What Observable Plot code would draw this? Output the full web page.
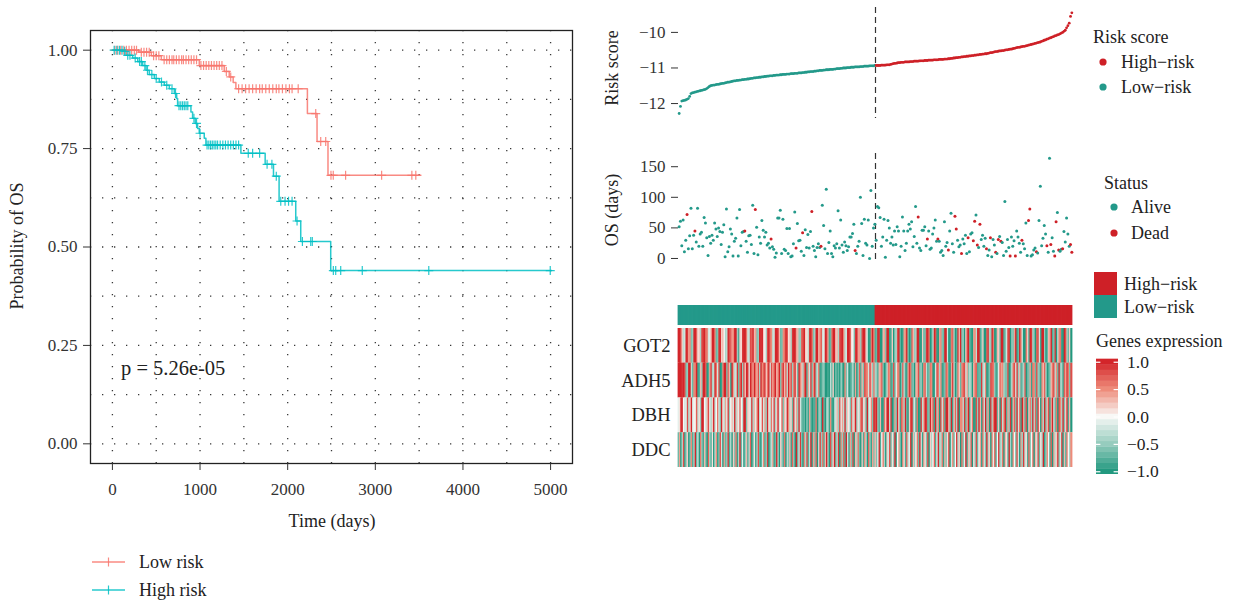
<!DOCTYPE html>
<html><head><meta charset="utf-8">
<script src="https://cdn.jsdelivr.net/npm/d3@7"></script>
<script src="https://cdn.jsdelivr.net/npm/@observablehq/plot@0.6"></script>
<style>
body{margin:0;background:#fff;}
#root{position:relative;width:1240px;height:610px;background:#fff;font-family:"Liberation Serif",serif;color:#222;overflow:hidden;}
#root svg{display:block;}
</style></head>
<body><div id="root"></div>
<script>
// ---------------- KM data ----------------
const lowT = [0, 300, 444, 558, 991, 1276, 1333, 1378, 1409, 2225, 2335, 2460, 3520];
const lowS = [1, 0.995, 0.986, 0.976, 0.961, 0.946, 0.932, 0.918, 0.902, 0.839, 0.768, 0.682, 0.682];
const lowCensor = [30,60,95,130,160,190,220,250,275,330,360,390,420,470,500,530,590,620,650,680,700,730,760,790,810,840,870,900,930,960,1010,1040,1070,1100,1130,1160,1190,1220,1250,1300,1350,1440,1480,1520,1560,1600,1640,1680,1710,1750,1790,1830,1870,1900,1940,1980,2020,2050,2120,2320,2377,2434,2494,2520,2661,3072,3417,3462];
const highT = [0, 118, 156, 231, 289, 345, 384, 421, 478, 535, 592, 649, 706, 733, 744, 896, 915, 945, 972, 991, 1048, 1067, 1466, 1743, 1838, 1902, 2092, 2149, 2491, 5011];
const highS = [1, 0.997, 0.987, 0.980, 0.971, 0.961, 0.949, 0.938, 0.928, 0.919, 0.911, 0.902, 0.890, 0.877, 0.859, 0.843, 0.827, 0.814, 0.801, 0.789, 0.776, 0.759, 0.738, 0.710, 0.680, 0.616, 0.566, 0.514, 0.440, 0.440];
const highCensor = [20,50,80,110,140,175,200,260,310,330,370,400,450,500,560,620,680,720,760,780,800,820,840,860,930,960,1000,1080,1100,1120,1140,1160,1180,1200,1230,1260,1290,1320,1350,1380,1410,1440,1550,1600,1680,1765,1820,1870,1921,1970,2010,2050,2107,2168,2263,2281,2521,2548,2605,2851,3610,4996];
const kmXTicks = [0, 1000, 2000, 3000, 4000, 5000];
const kmYTicks = [0, 0.25, 0.5, 0.75, 1];
const kmXGrid = [0, 500, 1000, 1500, 2000, 2500, 3000, 3500, 4000, 4500, 5000];
const kmYGrid = [0, 0.125, 0.25, 0.375, 0.5, 0.625, 0.75, 0.875, 1];
const pValueText = "p = 5.26e-05";

// ---------------- Risk panel data ----------------
const riskLow = [-12.28,-12.08,-11.93,-11.92,-11.91,-11.90,-11.88,-11.86,-11.80,-11.72,
-11.70,-11.69,-11.68,-11.67,-11.66,-11.65,-11.64,-11.63,-11.62,-11.61,
-11.60,-11.58,-11.55,-11.52,-11.50,-11.49,-11.48,-11.48,-11.47,-11.46,
-11.46,-11.45,-11.44,-11.43,-11.43,-11.42,-11.41,-11.40,-11.40,-11.39,
-11.38,-11.37,-11.36,-11.36,-11.35,-11.35,-11.34,-11.34,-11.33,-11.33,
-11.32,-11.32,-11.31,-11.31,-11.30,-11.29,-11.29,-11.28,-11.28,-11.27,
-11.27,-11.26,-11.26,-11.25,-11.25,-11.24,-11.24,-11.23,-11.23,-11.22,
-11.22,-11.22,-11.21,-11.21,-11.20,-11.20,-11.20,-11.19,-11.19,-11.18,
-11.18,-11.18,-11.17,-11.17,-11.17,-11.16,-11.16,-11.16,-11.15,-11.15,
-11.15,-11.14,-11.14,-11.14,-11.13,-11.13,-11.12,-11.12,-11.11,-11.11,
-11.10,-11.10,-11.10,-11.09,-11.09,-11.08,-11.08,-11.07,-11.07,-11.07,
-11.06,-11.06,-11.05,-11.05,-11.05,-11.04,-11.04,-11.04,-11.03,-11.03,
-11.02,-11.02,-11.02,-11.01,-11.01,-11.00,-11.00,-11.00,-10.99,-10.99,
-10.99,-10.98,-10.98,-10.98,-10.97,-10.97,-10.97,-10.97,-10.96,-10.96,
-10.96,-10.95,-10.95,-10.95,-10.95,-10.94,-10.94,-10.94,-10.94,-10.93];
const riskHigh = [-10.93,-10.93,-10.93,-10.93,-10.92,-10.92,-10.92,-10.92,-10.91,-10.91,
-10.91,-10.90,-10.89,-10.88,-10.87,-10.87,-10.86,-10.85,-10.85,-10.84,
-10.84,-10.84,-10.83,-10.83,-10.83,-10.83,-10.82,-10.82,-10.82,-10.81,
-10.81,-10.81,-10.81,-10.80,-10.80,-10.80,-10.80,-10.79,-10.79,-10.79,
-10.78,-10.78,-10.78,-10.78,-10.77,-10.77,-10.77,-10.77,-10.76,-10.76,
-10.76,-10.76,-10.75,-10.75,-10.75,-10.74,-10.74,-10.73,-10.73,-10.72,
-10.72,-10.71,-10.71,-10.70,-10.70,-10.69,-10.69,-10.68,-10.68,-10.67,
-10.67,-10.66,-10.66,-10.65,-10.65,-10.64,-10.64,-10.63,-10.63,-10.62,
-10.62,-10.61,-10.61,-10.60,-10.60,-10.59,-10.58,-10.57,-10.57,-10.56,
-10.55,-10.54,-10.54,-10.53,-10.52,-10.52,-10.51,-10.51,-10.50,-10.49,
-10.49,-10.48,-10.47,-10.47,-10.46,-10.45,-10.44,-10.43,-10.42,-10.42,
-10.41,-10.40,-10.39,-10.39,-10.38,-10.37,-10.36,-10.35,-10.34,-10.33,
-10.32,-10.31,-10.30,-10.29,-10.28,-10.27,-10.25,-10.24,-10.22,-10.21,
-10.19,-10.18,-10.16,-10.15,-10.13,-10.12,-10.10,-10.09,-10.07,-10.06,
-10.04,-10.02,-10.00,-9.97,-9.94,-9.87,-9.81,-9.74,-9.55,-9.45];
const riskTicks = [-12, -11, -10];

const osDays = [52,61,21,63,11,30,72,16,37,82,
16,38,45,27,82,20,40,43,20,67,
58,34,5,36,25,38,30,58,48,36,
50,44,23,43,55,3,81,11,19,48,
40,4,28,33,66,4,80,21,43,44,
45,28,10,37,38,23,87,8,80,51,
6,35,25,62,46,35,43,22,25,17,
32,19,15,2,9,66,66,79,8,64,
15,13,49,8,49,3,4,24,76,17,
57,29,30,12,42,5,47,18,39,17,
44,77,20,13,3,18,24,18,20,87,
54,16,113,8,26,45,8,3,21,17,
24,78,17,63,22,10,27,21,13,19,
35,35,41,56,13,8,20,28,100,57,
5,64,25,22,63,0,111,20,50,56,
30,85,83,67,20,35,64,2,30,62,
50,25,35,22,45,23,52,45,3,20,
68,45,13,25,45,56,48,60,19,36,
85,25,68,17,13,46,46,52,21,32,
45,15,17,40,50,63,28,32,28,10,
13,5,60,20,26,14,45,74,24,10,
69,48,30,19,22,8,32,24,38,8,
34,11,40,42,29,61,71,22,18,56,
31,38,20,33,16,5,14,34,3,31,
22,10,8,31,36,28,26,5,93,12,
31,18,4,35,20,29,4,45,35,25,
10,30,24,16,58,5,62,81,4,6,
14,17,11,9,62,118,21,33,54,40,
21,10,164,23,34,12,4,60,75,14,
12,15,16,44,27,66,40,20,23,10];
const deadIdx = [6,12,50,58,70,89,94,101,108,134,182,189,197,205,210,211,215,220,224,225,227,229,234,237,241,243,245,252,256,261,266,267,272,280,283,286,287,289,292,298,299];
const osTicks = [0, 50, 100, 150];

// ---------------- Heatmap data ----------------
const genes = ["GOT2", "ADH5", "DBH", "DDC"];
const exprGOT2 = [1,1,.8,.2,-.3,-.2,1,.9,.4,.5,-.6,-.5,1,1,.7,.1,.2,-.4,.8,.9,1,.6,.6,-.2,-.1,.3,1,1,.5,-.7,-.6,.9,1,.2,.3,0,-.4,-.3,1,.8,.7,.4,.5,1,1,-.5,-.8,.2,.1,.9,1,1,.6,-.2,-.3,.8,.7,1,.3,.4,-.6,-.5,1,.9,1,.2,0,-.4,.8,1,.6,.5,-.3,-.2,1,1,.9,.3,-.7,-.6,.5,.6,1,.8,.1,.2,-.4,.9,1,1,.4,.3,-.5,-.5,.7,.8,1,.2,.1,-.3,.9,1,.6,-.6,-.4,1,1,.3,.5,.7,-.2,-.1,1,.9,.4,-.8,-.7,.6,1,1,.2,.3,-.4,.8,.9,1,.5,-.3,-.2,1,1,.7,.1,0,-.6,.9,1,.4,.4,-.5,.8,1,1,.2,-.3,-1,-.9,.6,1,.5,
-.8,-.7,1,.9,-1,-1,.3,.4,-.6,1,1,-.9,-.8,.2,-1,-.5,-.4,.8,1,-.7,-1,-.9,.4,.5,1,-.6,-1,-.8,.7,.3,-.5,-.4,1,1,-.9,-1,.2,-.7,-.6,.9,1,.6,-1,-.8,-.3,1,.8,-.9,-1,.4,.5,-.6,-.7,1,1,-.2,-1,-.9,.6,.7,-.4,-1,-.8,.9,.3,1,-.6,-.5,-1,.2,.8,1,-.7,-.9,-1,.4,.5,-.3,1,1,-.8,-.6,.2,-1,-1,.7,.9,-.4,-.5,1,.6,-1,-.9,.3,.2,-.7,1,1,-.8,-.6,-.2,.8,.9,-1,-.5,-.6,.4,1,-.9,-.7,1,.5,-.3,-1,-1,.6,.2,-.8,1,.9,-.4,-.6,-1,.7,.8,-.2,-.9,1,1,-.5,-1,-.7,.3,.4,1,-.8,-.6,.9,-1,-.3,.5,.6,-.9,-1,1,.8,-.4,-.7,.2,-1];
const exprADH5 = [1,1,1,.9,1,.8,-.6,-.5,1,1,-.3,-.7,.5,.6,1,-.9,-.8,.3,-.5,1,1,.7,-1,-.8,.4,.9,-.4,-.3,1,.6,-.2,.8,-1,-.9,.5,1,1,-.6,.7,.3,-.9,1,.4,-.3,-.2,.9,-.7,.6,1,-.5,.8,.2,1,.9,-.1,1,.7,.4,1,.6,.3,.8,-.4,1,.5,.7,.9,.2,.6,1,-.2,.8,.4,.7,1,.3,.5,1,-.6,.6,.9,.3,.7,-.3,1,.4,.8,-.5,.6,.9,.2,-.7,1,.5,.3,-.4,.7,1,-.8,.4,-.2,.9,-.6,.5,1,-.5,-.3,.6,-.9,-.8,-.6,-.5,-1,-1,-.8,-1,-.3,-.7,.2,-1,-.6,-.9,-.7,-1,-.4,-.8,-1,.5,-.6,-.2,-1,-.8,-.7,-.3,-.9,.4,-1,-.5,.7,-.8,.3,-.6,.8,.6,.5,-.2,.9,.3,-.5,.6,
-.4,-.5,-.8,.3,.4,.7,-.6,-1,-.8,-.3,.6,.5,-.9,-.7,.8,-.7,-.1,.5,.6,-1,-.6,.7,-.3,-.8,-.9,.4,.9,.6,-.7,-.6,-1,.3,.4,.8,-.6,-.5,-.9,.5,.7,-.3,-.8,-.6,.6,.5,-1,-.9,-.2,.8,.6,-.4,.5,-.9,-.8,-.6,.7,.5,-.8,-1,.4,.9,-.3,-1,-.7,.6,.2,-.7,.5,.7,.8,-.2,.4,-.6,-.3,-.5,-1,.3,.6,.7,-.8,-.7,-.7,.9,-.4,-.2,.5,-1,-.8,-.6,.8,.7,.6,-.5,-.9,-.7,-.1,.7,.4,.5,-.4,-.6,-.6,.8,-1,-.8,-.3,.6,.8,-.2,.9,-.5,.3,-.8,-.6,-.4,.7,-1,-.7,-.6,.4,-.9,.6,.5,-.7,.8,-.5,-.6,-.9,.5,.3,.7,-.4,-1,-.8,-.6,.3,.6,.8,-.3,.5,-.7,1,-.5,-.4,-.9,.7,.4,.9,.6,-.6,.8];
const exprDBH = [-.1,.1,.9,1,0,-.2,-.1,.8,-.4,.2,1,-.2,0,.1,.7,-.3,.1,-.5,1,1,0,-.2,.3,.8,-.1,-.4,.2,1,-.3,0,.6,-.2,-.6,1,.1,-.3,.4,-.1,.9,-.5,0,.3,-.2,1,-.4,.2,-.1,.7,0,-.3,1,1,-.6,.2,.1,-.2,.9,-.4,.3,-.1,.5,1,-.3,0,.8,-.2,.4,-.5,1,.1,-.3,.6,-.1,.9,-.4,.2,1,-.2,0,.7,-.6,.3,-.1,1,.5,-.3,.2,-.7,.9,-.1,.4,-.5,1,-.2,-.6,-.8,-.7,-1,-.5,-.9,.4,-.7,-1,-.8,-.8,.6,-1,-.6,-.4,-.9,1,-.7,-1,-.5,-.3,-.9,.5,-.8,-1,-.4,-.2,.3,-.5,.8,-.1,.4,-.3,1,-.4,.2,0,-.6,.7,-.2,.3,1,-.5,.1,-.3,.6,.9,-.2,.2,-.7,1,-.4,0,.5,-.6,1,
.8,1,-.5,-.8,.3,-1,-.9,.6,.2,1,1,-.3,.9,-1,-.8,.4,-.6,1,.1,-.9,.7,.5,-.4,1,-.7,-1,.2,.8,1,-.5,-.2,-.8,.6,-1,-.9,.9,-.3,.4,1,.9,-.7,-.6,1,.3,.7,-.9,1,-.4,.5,-1,.8,-.2,.6,-.8,1,1,.3,-.6,1,-.9,.2,.7,-.4,1,-1,.5,.5,-.3,.9,-.7,.4,1,-.8,.1,.6,-1,-.9,.8,-.5,1,.3,-.9,.7,-.2,1,-.6,.4,-1,.9,-.4,.6,1,1,-.7,.2,-1,.8,-.3,.5,1,-.8,.4,-.5,.9,-1,.3,.7,-.6,1,-.2,.6,-.9,1,.4,-.7,.8,-1,.2,.6,-.5,1,-.3,.7,-.8,.9,.1,-1,.5,-.4,1,-.6,.3,.8,-.9,.4,1,-.2,-.7,.6,-1,.8,.5,-.4,1,-.6,.2,.9,-.8,.3,-1];
const exprDDC = [-.7,.4,-1,-.3,.8,-.9,-.5,.2,-1,-.6,.5,-.8,-.4,1,-.7,-.2,-1,.6,-.5,-.9,.3,-.6,-1,.7,-.4,-.8,.1,-1,-.3,.5,-.9,-.6,.8,-.2,-1,.4,-.7,-.5,.9,-.8,-.3,-1,.2,-.6,.6,-.9,-.4,1,-.7,-.1,-1,-.5,.3,-.8,-.3,.7,-1,-.6,.1,-.9,-.4,.8,-.7,-1,-.2,.5,-.8,-.5,.9,-1,-.6,-.3,.4,-.9,-.7,1,-.4,-1,.2,-.5,-.8,.6,-1,-.3,-.6,.3,-.9,.7,-.5,-1,1,-.7,-.2,.9,-.6,-1,.5,-.4,.8,-.8,-.3,1,-.9,.4,-.6,.7,-1,-.2,.9,-.5,.6,-.8,.3,1,-.4,-1,.8,-.6,.2,1,-.7,-.3,.9,-1,.5,-.5,.7,-.8,1,-.2,-.9,.4,-.6,.8,-1,.3,-.4,.6,-.7,-1,.2,-.8,.5,-.3,-1,.7,-.5,-.9,.4,-.6,
.3,-.6,-.1,1,-.8,0,.6,-.4,-1,.2,-.2,.8,-.7,.1,-.5,1,-.9,0,.4,-.6,-1,.5,.1,-.8,.7,-.3,-.1,.9,-1,.3,-.5,0,.6,-.7,1,-.2,-.9,.4,.1,-.6,.8,-1,.2,-.4,0,.7,-.8,-.1,1,-.5,-.3,.6,-.9,.3,-.6,.1,.8,-1,-.2,.5,-.7,0,.9,-.4,.2,-1,.6,-.6,-.1,1,-.8,.3,-.3,.7,-1,.1,-.5,.8,-.7,0,.4,-.9,.6,-.2,-.6,1,-.4,.2,-1,.5,-.1,.7,-.8,0,.9,-.5,-.3,.6,-1,.3,.1,-.7,1,-.4,-.9,.5,0,-.6,.8,-.2,-1,.4,-.5,.9,-.3,.1,-.8,.7,-.6,0,.6,-1,.3,-.2,.8,-.7,.1,-.4,1,-.9,-.5,.5,0,-.8,.7,-1,.4,-.3,.2,.9,-.6,-.2,.8,-1,.3,-.7,.6,0,-.4,.5];
const exprTicks = [-1, -0.5, 0, 0.5, 1];
const exprBands = [-1,-0.9,-0.8,-0.7,-0.6,-0.5,-0.4,-0.3,-0.2,-0.1,0,0.1,0.2,0.3,0.4,0.5,0.6,0.7,0.8,0.9,1];

// ---------------- colours ----------------
const RED = "#CE2027", TEAL = "#23998A";
const KM_LOW = "#F8766D", KM_HIGH = "#00BFC4";
const HEAT_RANGE = ["#22997F", "#96CCBE", "#F8F8F6", "#EE8B7A", "#D3252A"];

const root = document.getElementById("root");
const baseStyle = {fontFamily: "'Liberation Serif', serif", fontSize: "17px", color: "#333", background: "transparent", overflow: "visible"};
function place(el, x, y) { el.style.position = "absolute"; el.style.left = x + "px"; el.style.top = y + "px"; root.appendChild(el); return el; }
function txt(s, x, y, {size = 18, anchor = "start", rotate = false, color = "#222"} = {}) {
  const d = document.createElement("div");
  d.textContent = s;
  d.style.cssText = `font-size:${size}px;white-space:nowrap;line-height:1;color:${color};`;
  const tx = anchor === "middle" ? "-50%" : anchor === "end" ? "-100%" : "0";
  d.style.transform = rotate ? "translate(-50%,-50%) rotate(-90deg)" : `translate(${tx},-50%)`;
  return place(d, x, y);
}
const plusSym = {draw(ctx, size) { const r = Math.sqrt(size / Math.PI); ctx.moveTo(-r, 0); ctx.lineTo(r, 0); ctx.moveTo(0, -r); ctx.lineTo(0, r); }};
function stepAt(T, S, t) { let s = S[0]; for (let k = 0; k < T.length; k++) if (T[k] <= t) s = S[k]; return s; }

// ---------------- KM plot ----------------
const lowLine = lowT.map((t, k) => ({t, s: lowS[k]}));
const highLine = highT.map((t, k) => ({t, s: highS[k]}));
const lowCens = lowCensor.map(t => ({t, s: stepAt(lowT, lowS, t)}));
const highCens = highCensor.map(t => ({t, s: stepAt(highT, highS, t)}));

const km = Plot.plot({
  width: 600, height: 540, marginLeft: 90, marginRight: 28, marginTop: 30, marginBottom: 77,
  style: baseStyle,
  x: {domain: [-250, 5250]}, y: {domain: [-0.05, 1.05]},
  marks: [
    Plot.gridX(kmXGrid, {stroke: "#222", strokeOpacity: 0.9, strokeWidth: 1.3, strokeDasharray: "1.3,10.7"}),
    Plot.gridY(kmYGrid, {stroke: "#222", strokeOpacity: 0.9, strokeWidth: 1.3, strokeDasharray: "1.3,10.7"}),
    Plot.frame({stroke: "#222", strokeWidth: 1.3}),
    Plot.axisX(kmXTicks, {tickSize: 7, tickPadding: 12, label: null, tickFormat: d3.format("d")}),
    Plot.axisY(kmYTicks, {tickSize: 7, tickPadding: 6, label: null, tickFormat: d3.format(".2f")}),
    Plot.line(lowLine, {x: "t", y: "s", curve: "step-after", stroke: KM_LOW, strokeWidth: 1.5, strokeOpacity: 0.85}),
    Plot.line(highLine, {x: "t", y: "s", curve: "step-after", stroke: KM_HIGH, strokeWidth: 1.5, strokeOpacity: 0.85}),
    Plot.dot(lowCens, {x: "t", y: "s", symbol: plusSym, r: 4.5, stroke: KM_LOW, fill: "none", strokeWidth: 1.2, strokeOpacity: 0.85}),
    Plot.dot(highCens, {x: "t", y: "s", symbol: plusSym, r: 4.5, stroke: KM_HIGH, fill: "none", strokeWidth: 1.2, strokeOpacity: 0.85})
  ]
});
place(km, 0, 0);
txt("Probability of OS", 17, 246, {rotate: true});
txt("Time (days)", 332, 521, {anchor: "middle"});
txt(pValueText, 121, 368, {size: 20.5});

// KM legend
const kmLeg = d3.create("svg").attr("width", 150).attr("height", 60);
[["Low risk", KM_LOW, 17], ["High risk", KM_HIGH, 45]].forEach(([lab, c, y]) => {
  kmLeg.append("line").attr("x1", 7).attr("x2", 40).attr("y1", y).attr("y2", y).attr("stroke", c).attr("stroke-width", 1.5).attr("stroke-opacity", 0.85);
  kmLeg.append("line").attr("x1", 23.5).attr("x2", 23.5).attr("y1", y - 4.5).attr("y2", y + 4.5).attr("stroke", c).attr("stroke-width", 1.2).attr("stroke-opacity", 0.85);
  kmLeg.append("text").attr("x", 54).attr("y", y).attr("dy", "0.35em").attr("font-size", 18).attr("font-family", "'Liberation Serif', serif").attr("fill", "#222").text(lab);
});
place(kmLeg.node(), 85, 545);

// ---------------- right panels ----------------
const N = riskLow.length + riskHigh.length;
const cut = riskLow.length - 0.5;
const deadSet = new Set(deadIdx);
const samples = [...riskLow, ...riskHigh].map((s, i) => ({
  i, s, g: i < riskLow.length ? "Low-risk" : "High-risk", os: osDays[i], st: deadSet.has(i) ? "Dead" : "Alive"
}));
const idx = samples.map(d => d.i);
const rightW = 480, rightML = 78, rightMR = 8;

const p1 = Plot.plot({
  width: rightW, height: 125, marginLeft: rightML, marginRight: rightMR, marginTop: 7, marginBottom: 7,
  style: baseStyle,
  x: {domain: [-0.5, N - 0.5], axis: null}, y: {domain: [-12.42, -9.30]},
  color: {domain: ["High-risk", "Low-risk"], range: [RED, TEAL]},
  marks: [
    Plot.axisY(riskTicks, {tickSize: 7, tickPadding: 6, label: null, tickFormat: d3.format("d")}),
    Plot.ruleX([cut], {stroke: "#333", strokeWidth: 1.2, strokeDasharray: "6,4"}),
    Plot.dot(samples, {x: "i", y: "s", fill: "g", r: 1.4})
  ]
});
place(p1, 600, 0);
txt("Risk score", 612, 68, {rotate: true});

const p2 = Plot.plot({
  width: rightW, height: 130, marginLeft: rightML, marginRight: rightMR, marginTop: 13, marginBottom: 7,
  style: baseStyle,
  x: {domain: [-0.5, N - 0.5], axis: null}, y: {domain: [-8.2, 171.6]},
  color: {domain: ["Alive", "Dead"], range: [TEAL, RED]},
  marks: [
    Plot.axisY(osTicks, {tickSize: 7, tickPadding: 6, label: null, tickFormat: d3.format("d")}),
    Plot.ruleX([cut], {stroke: "#333", strokeWidth: 1.2, strokeDasharray: "6,4"}),
    Plot.dot(samples, {x: "i", y: "os", fill: "st", r: 1.5})
  ]
});
place(p2, 600, 140);
txt("OS (days)", 612, 210, {rotate: true});

const p3 = Plot.plot({
  width: rightW, height: 20, marginLeft: rightML, marginRight: rightMR, marginTop: 0, marginBottom: 0,
  style: baseStyle,
  x: {type: "band", domain: idx, padding: 0, round: false, axis: null},
  color: {domain: ["High-risk", "Low-risk"], range: [RED, TEAL]},
  marks: [Plot.cell(samples, {x: "i", fill: "g", insetLeft: -0.4, insetRight: -0.4})]
});
place(p3, 600, 305);

const exprByGene = {GOT2: exprGOT2, ADH5: exprADH5, DBH: exprDBH, DDC: exprDDC};
const heat = genes.flatMap(g => exprByGene[g].slice(0, N).map((v, i) => ({g, i, v})));
const heatColor = {type: "linear", domain: [-1, -0.5, 0, 0.5, 1], range: HEAT_RANGE, clamp: true};
const p4 = Plot.plot({
  width: rightW, height: 139, marginLeft: rightML, marginRight: rightMR, marginTop: 0, marginBottom: 0,
  style: {...baseStyle, fontSize: "18.5px"},
  x: {type: "band", domain: idx, padding: 0, round: false, axis: null},
  y: {type: "band", domain: genes, padding: 0, round: false},
  color: heatColor,
  marks: [
    Plot.cell(heat, {x: "i", y: "g", fill: "v", insetLeft: -0.4, insetRight: -0.4}),
    Plot.axisY({tickSize: 0, tickPadding: 8, label: null, fill: "#222"})
  ]
});
place(p4, 600, 328);

// ---------------- legends ----------------
function dotSvg(color, r) {
  const s = d3.create("svg").attr("width", 2 * r + 2).attr("height", 2 * r + 2);
  s.append("circle").attr("cx", r + 1).attr("cy", r + 1).attr("r", r).attr("fill", color);
  const n = s.node(); n.style.transform = "translate(-50%,-50%)"; return n;
}
txt("Risk score", 1093, 37);
place(dotSvg(RED, 3.6), 1103, 62); txt("High\u2212risk", 1121, 62);
place(dotSvg(TEAL, 3.6), 1103, 87); txt("Low\u2212risk", 1121, 87);
txt("Status", 1104, 183);
place(dotSvg(TEAL, 3.6), 1114, 207); txt("Alive", 1131, 207);
place(dotSvg(RED, 3.6), 1114, 233); txt("Dead", 1131, 233);

const rectLeg = d3.create("svg").attr("width", 24).attr("height", 47);
rectLeg.append("rect").attr("x", 0).attr("y", 0).attr("width", 23).attr("height", 23).attr("fill", RED);
rectLeg.append("rect").attr("x", 0).attr("y", 23).attr("width", 23).attr("height", 23).attr("fill", TEAL);
place(rectLeg.node(), 1094, 272);
txt("High\u2212risk", 1124, 284);
txt("Low\u2212risk", 1124, 307);

txt("Genes expression", 1096, 341);
const cb = Plot.plot({
  width: 110, height: 130, margin: 0,
  style: {...baseStyle, color: "#222"},
  x: {domain: [0, 1], range: [6, 28], axis: null},
  y: {domain: [-1.05, 1.05], range: [124, 9], axis: null},
  color: heatColor,
  marks: [
    Plot.rect(exprBands, {x1: 0, x2: 1, y1: d => d - 0.05, y2: d => d + 0.056, fill: d => d}),
    Plot.ruleY(exprTicks, {x1: 0, x2: 0.2, stroke: "white", strokeWidth: 1.2}),
    Plot.ruleY(exprTicks, {x1: 0.8, x2: 1, stroke: "white", strokeWidth: 1.2}),
    Plot.text(exprTicks, {x: 1, y: d => d, dx: 8.5, textAnchor: "start", text: d => d3.format(".1f")(d), fontSize: 17.5, fill: "#222"})
  ]
});
place(cb, 1090, 350);
</script>
</body></html>
